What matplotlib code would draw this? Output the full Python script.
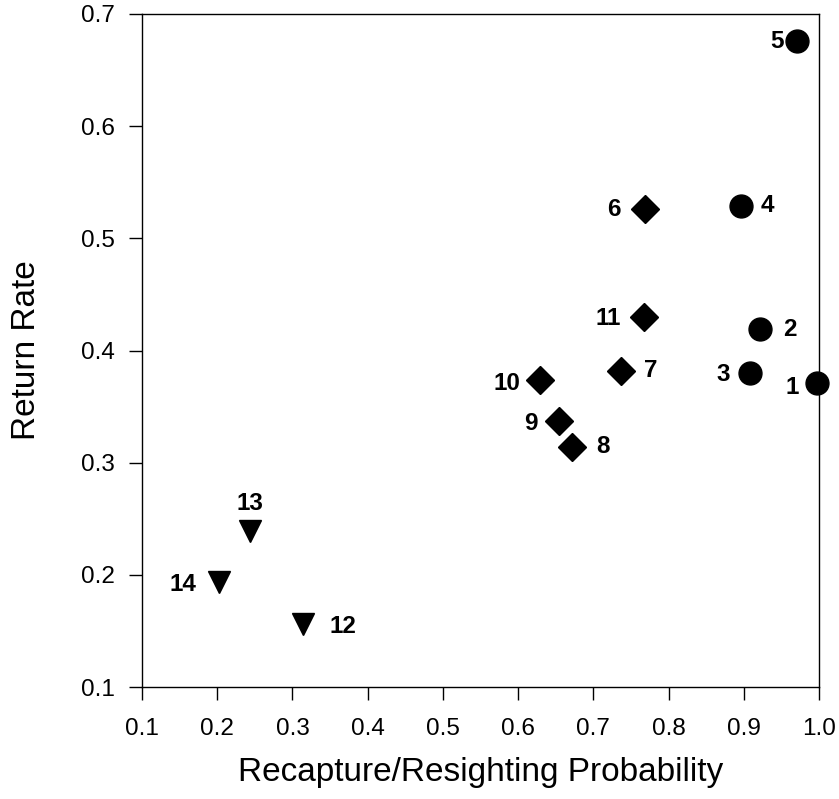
import matplotlib
matplotlib.use("Agg")
import matplotlib.pyplot as plt

plt.rcParams['font.family'] = ['Liberation Sans', 'DejaVu Sans']

# Data
ids_circle = ["1", "2", "3", "4", "5"]
x_circle = [0.998, 0.921, 0.908, 0.896, 0.971]
y_circle = [0.371, 0.419, 0.380, 0.529, 0.676]

ids_diamond = ["6", "7", "8", "9", "10", "11"]
x_diamond = [0.769, 0.737, 0.672, 0.654, 0.629, 0.768]
y_diamond = [0.526, 0.382, 0.314, 0.337, 0.374, 0.430]

ids_tri = ["12", "13", "14"]
x_tri = [0.314, 0.244, 0.202]
y_tri = [0.156, 0.239, 0.194]

x_ticks = [0.1, 0.2, 0.3, 0.4, 0.5, 0.6, 0.7, 0.8, 0.9, 1.0]
y_ticks = [0.1, 0.2, 0.3, 0.4, 0.5, 0.6, 0.7]

# label offsets in pixels (dx, dy), style only
label_offsets = {
    "1": (-25, -4), "2": (30, 0), "3": (-27, -2), "4": (27, 0), "5": (-20, -1),
    "6": (-31, 0), "7": (30, 0), "8": (31, 0), "9": (-28, -2), "10": (-33, -4),
    "11": (-36, -2), "12": (40, -2), "13": (0, 28), "14": (-36, -3),
}

fig = plt.figure(figsize=(8.39, 7.99), dpi=100)
ax = fig.add_axes([142/839, 1-687/799, (819-142)/839, (687-14)/799])

ax.plot(x_circle, y_circle, 'o', color='black', markersize=16.5, linestyle='none', clip_on=False)
ax.plot(x_diamond, y_diamond, 'D', color='black', markersize=14.2, linestyle='none', clip_on=False)
ax.plot(x_tri, y_tri, 'v', color='black', markersize=16.5, linestyle='none', clip_on=False)

for ids, xs, ys in [(ids_circle, x_circle, y_circle), (ids_diamond, x_diamond, y_diamond), (ids_tri, x_tri, y_tri)]:
    for lab, xv, yv in zip(ids, xs, ys):
        dx, dy = label_offsets[lab]
        ax.annotate(lab, (xv, yv), xytext=(dx, dy), textcoords='offset pixels',
                    ha='center', va='center', fontsize=17.5, fontweight='bold')

ax.set_xlim(0.1, 1.0)
ax.set_ylim(0.1, 0.7)
ax.set_xticks(x_ticks)
ax.set_xticklabels([f"{v:.1f}" for v in x_ticks])
ax.set_yticks(y_ticks)
ax.set_yticklabels([f"{v:.1f}" for v in y_ticks])
ax.tick_params(direction='out', length=9.5, width=1, labelsize=17.5)
ax.tick_params(axis='x', pad=13)
ax.tick_params(axis='y', pad=10)
for s in ax.spines.values():
    s.set_linewidth(1)

ax.set_xlabel("Recapture/Resighting Probability", fontsize=24, labelpad=12)
ax.set_ylabel("Return Rate", fontsize=24, labelpad=28)

fig.savefig("out.png", dpi=100)
